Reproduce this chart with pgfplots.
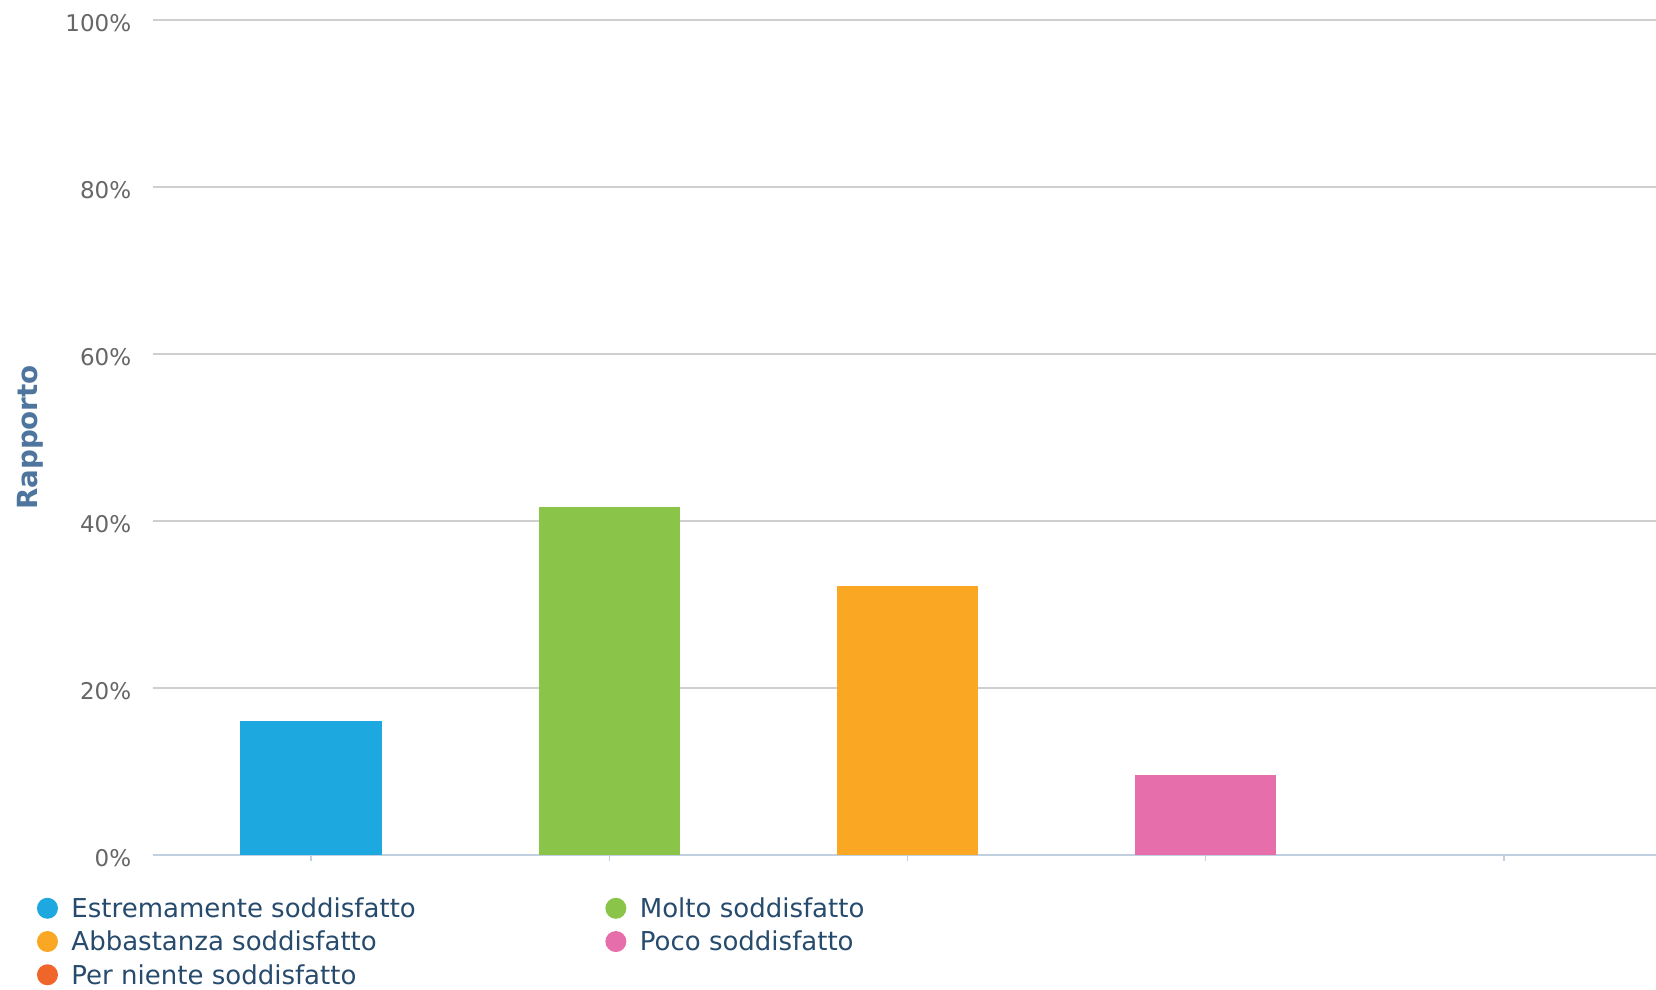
\documentclass[border=0pt]{standalone}
\usepackage{fontspec}
\setmainfont{DejaVu Sans}
\usepackage{pgfplots}
\pgfplotsset{compat=1.18}
\definecolor{cblue}{HTML}{1EA8E0}
\definecolor{cgreen}{HTML}{8AC449}
\definecolor{corange}{HTML}{FAA823}
\definecolor{cpink}{HTML}{E66EAA}
\definecolor{cred}{HTML}{F0652A}
\definecolor{gridgray}{HTML}{CFCFCF}
\definecolor{axisblue}{HTML}{C0D0E0}
\definecolor{ticktext}{HTML}{666666}
\definecolor{labelblue}{HTML}{4D759E}
\definecolor{legendtext}{HTML}{274B6D}
\pgfplotsset{dotlegend/.style={legend image code/.code={\fill[##1,draw=none] (4.2pt,0.5pt) circle (4.2pt);}}}
\begin{document}
\begin{tikzpicture}
\path[use as bounding box] (0,0) rectangle (662.4pt,396pt);
\begin{axis}[
  at={(61.2pt,54pt)}, anchor=south west,
  scale only axis, width=601.2pt, height=334pt,
  xmin=-0.53, xmax=4.51, ymin=0, ymax=100,
  ybar, bar width=0.474,
  every axis plot/.append style={bar shift=0pt},
  xtick={0,1,2,3,4}, xticklabels={,,,,},
  ytick={0,20,40,60,80,100},
  yticklabels={0\%,20\%,40\%,60\%,80\%,100\%},
  ymajorgrids, grid style={color=gridgray, line width=0.5pt},
  axis x line*=bottom, axis y line*=left,
  y axis line style={draw=none},
  x axis line style={color=axisblue, line width=0.9pt},
  tick align=outside, major tick length=2.5pt,
  xtick style={color=axisblue, line width=0.6pt},
  ytick style={draw=none},
  yticklabel style={font=\fontsize{9.2}{10}\selectfont, color=ticktext, xshift=-2.7pt, yshift=-1.3pt},
  ylabel={Rapporto},
  ylabel style={at={(axis description cs:-0.0814,0.5)}, anchor=center, font=\fontsize{11.1}{12}\selectfont\bfseries, color=labelblue},
  legend columns=2,
  legend cell align=left,
  legend style={at={(axis description cs:-0.0772,-0.0496)}, anchor=north west, draw=none, fill=none, inner sep=0pt, outer sep=0pt, column sep=5.4pt, row sep=2.8pt, font=\fontsize{10.4}{12}\selectfont, text=legendtext, nodes={inner sep=0pt, text height=8.5pt, text depth=2pt}, /tikz/column 2/.style={column sep=75.8pt}},
]
\addplot[fill=cblue, draw=none, dotlegend] coordinates {(0,16.1)};
\addlegendentry{Estremamente soddisfatto}
\addplot[fill=cgreen, draw=none, dotlegend] coordinates {(1,41.7)};
\addlegendentry{Molto soddisfatto}
\addplot[fill=corange, draw=none, dotlegend] coordinates {(2,32.2)};
\addlegendentry{Abbastanza soddisfatto}
\addplot[fill=cpink, draw=none, dotlegend] coordinates {(3,9.6)};
\addlegendentry{Poco soddisfatto}
\addplot[fill=none, draw=none, forget plot] coordinates {(4,0)};
\addlegendimage{fill=cred, draw=none, dotlegend}
\addlegendentry{Per niente soddisfatto}
\end{axis}
\end{tikzpicture}
\end{document}
